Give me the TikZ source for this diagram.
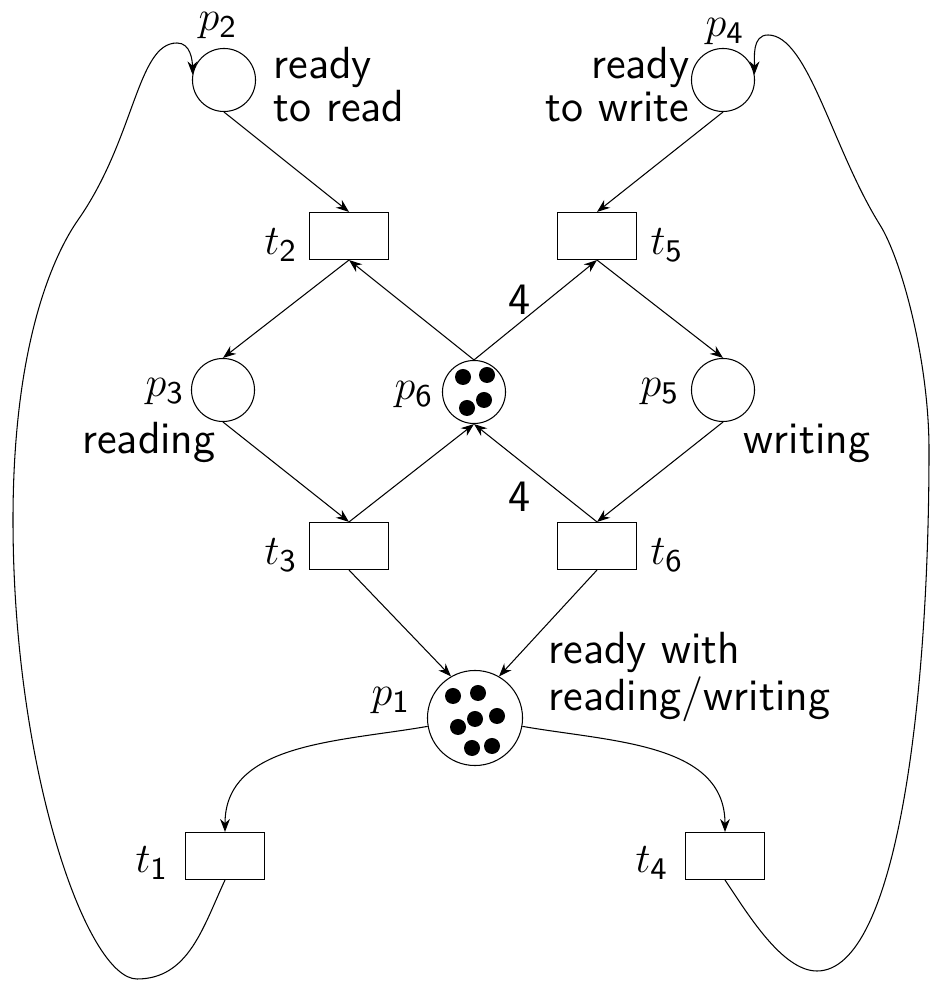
\documentclass[tikz,border=0pt]{standalone}
\usepackage{amsmath}
\usetikzlibrary{arrows.meta}
\newcommand{\plc}[1]{$p_{\mathsf{#1}}$}
\newcommand{\trn}[1]{$t_{\mathsf{#1}}$}

\begin{document}
\begin{tikzpicture}[x=0.01cm, y=0.01cm, line width=0.3pt,
    >={Stealth[length=3.7pt, width=2.8pt]},
    place/.style={draw, circle, minimum size=0.63cm, inner sep=0pt},
    trans/.style={draw, minimum width=0.79cm, minimum height=0.47cm, inner sep=0pt},
    txt/.style={inner sep=0pt, font=\fontsize{12.8}{12.2}\selectfont\sffamily}]
    \useasboundingbox (0,0) rectangle (930,982);

    \node[place] (p2) at (224,902) {};
    \node[place] (p4) at (723,902) {};
    \node[place] (p3) at (223,592) {};
    \node[place] (p6) at (474,590) {};
    \node[place] (p5) at (723,592) {};
    \node[place, minimum size=0.95cm] (p1) at (475,264) {};
    \node[trans] (t2) at (349,746) {};
    \node[trans] (t5) at (597,746) {};
    \node[trans] (t3) at (349,436) {};
    \node[trans] (t6) at (597,436) {};
    \node[trans] (t1) at (225,126) {};
    \node[trans] (t4) at (725,126) {};

    \foreach \dx/\dy in {-11/15, 13/17, 10/-8, -7/-16}
        \fill ([shift={(\dx,\dy)}]p6.center) circle [radius=0.08cm];
    \foreach \dx/\dy in {-22/22, 3/25, -17/-9, 0/-1, 22/2, -3/-30, 17/-28}
        \fill ([shift={(\dx,\dy)}]p1.center) circle [radius=0.08cm];

    \node[txt] (lp2) at (218,956) {\plc{2}};
    \node[txt] (lp4) at (725,950) {\plc{4}};
    \node[txt] (lp3) at (165,590) {\plc{3}};
    \node[txt] (lp6) at (414,587) {\plc{6}};
    \node[txt] (lp5) at (660,590) {\plc{5}};
    \node[txt] (lp1) at (391,281) {\plc{1}};
    \node[txt] (lt2) at (281,737) {\trn{2}};
    \node[txt] (lt5) at (667,737) {\trn{5}};
    \node[txt] (lt3) at (281,427) {\trn{3}};
    \node[txt] (lt6) at (667,427) {\trn{6}};
    \node[txt] (lt1) at (152,119) {\trn{1}};
    \node[txt] (lt4) at (652,119) {\trn{4}};

    \node[txt, anchor=west, align=left] (rdread) at (273,897) {ready\\to read};
    \node[txt, anchor=east, align=right] (rdwrite) at (690,897) {ready\\to write};
    \node[txt] (reading) at (149,539) {reading};
    \node[txt] (writing) at (807,539) {writing};
    \node[txt, anchor=west, align=left] (rddone) at (548,305) {ready with\\reading/writing};
    \node[txt] (w1) at (520,682) {4};
    \node[txt] (w2) at (520,485) {4};

    \draw[->] (p2.south) -- (t2.north);
    \draw[->] (p4.south) -- (t5.north);
    \draw[->] (p6.north) -- (t2.south);
    \draw[->] (p6.north) -- (t5.south);
    \draw[->] (t2.south) -- (p3.north);
    \draw[->] (t5.south) -- (p5.north);
    \draw[->] (p3.south) -- (t3.north);
    \draw[->] (p5.south) -- (t6.north);
    \draw[->] (t3.north) -- (p6.south);
    \draw[->] (t6.north) -- (p6.south);
    \draw[->] (t3.south) -- (p1.120);
    \draw[->] (t6.south) -- (p1.60);
    \draw[->] (p1.190) to[out=190, in=90] (t1.north);
    \draw[->] (p1.-10) to[out=-10, in=90] (t4.north);

    \coordinate (lb) at (137,3);
    \coordinate (ll) at (13,462);
    \coordinate (lm) at (78,762);
    \coordinate (lt) at (177,939);
    \draw[->] (t1.south) to[out=245, in=0] (lb)
        .. controls +(-50,0) and +(0,-250) .. (ll)
        .. controls +(0,180) and +(235:40) .. (lm)
        .. controls +(55:100) and +(-40,0) .. (lt)
        to[out=0, in=90] (p2.170);

    \coordinate (rb) at (817,11);
    \coordinate (rr) at (929,532);
    \coordinate (rm) at (880,757);
    \coordinate (rt) at (768,947);
    \draw[->] (t4.south) .. controls +(-56:40) and +(-35,0) .. (rb)
        .. controls +(80,0) and +(0,-250) .. (rr)
        .. controls +(0,90) and +(-58:40) .. (rm)
        .. controls +(122:90) and +(40,0) .. (rt)
        to[out=180, in=90] (p4.10);
\end{tikzpicture}
\end{document}
